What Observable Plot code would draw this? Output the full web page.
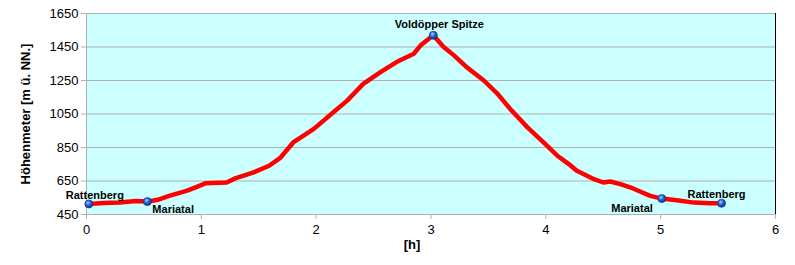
<!DOCTYPE html>
<html><head><meta charset="utf-8">
<script src="https://cdn.jsdelivr.net/npm/d3@7"></script>
<script src="https://cdn.jsdelivr.net/npm/@observablehq/plot@0.6"></script>
<style>body{margin:0;background:#fff;}</style>
</head><body><div id="chart"></div>
<script>
const hours = [0.02,0.15,0.29,0.43,0.53,0.62,0.72,0.87,0.95,1.04,1.22,1.30,1.45,1.59,1.69,1.80,1.98,2.15,2.27,2.41,2.56,2.70,2.85,2.91,3.02,3.11,3.20,3.31,3.46,3.58,3.69,3.84,3.98,4.10,4.20,4.27,4.42,4.50,4.56,4.65,4.74,4.82,4.91,5.01,5.14,5.29,5.43,5.53];
const heights = [513,518,521,531,527,538,561,591,612,637,641,667,700,741,790,880,961,1060,1130,1230,1300,1360,1410,1460,1520,1450,1400,1330,1250,1170,1080,970,880,801,751,711,661,641,647,631,611,587,561,545,535,521,517,517];
const wpNames = ["Rattenberg","Mariatal","Voldöpper Spitze","Mariatal","Rattenberg"];
const wpHours = [0.02,0.53,3.02,5.01,5.53];
const wpHeights = [513,527,1520,545,517];
const xTicks = [0,1,2,3,4,5,6];
const yTicks = [450,650,850,1050,1250,1450,1650];
const xTitle = "[h]";
const yTitle = "Höhenmeter [m ü. NN.]";

const track = hours.map((h, i) => ({h, m: heights[i]}));
const wps = wpNames.map((name, i) => ({name, h: wpHours[i], m: wpHeights[i], i}));

const font = "'Liberation Sans', Arial, sans-serif";
const labelStyle = {x: "h", y: "m", text: "name", fontWeight: "bold", fontSize: 11, fill: "black"};
const label = (i, opts) => Plot.text(wps.filter(d => d.i === i), {...labelStyle, ...opts});

const chart = Plot.plot({
  width: 795, height: 265,
  marginLeft: 86, marginRight: 20, marginTop: 13, marginBottom: 51,
  style: {fontFamily: font, background: "white", overflow: "visible"},
  x: {domain: [0, 6]},
  y: {domain: [450, 1650]},
  marks: [
    Plot.frame({fill: "#ccffff", stroke: null}),
    Plot.ruleY(yTicks, {stroke: "#b0b0b0", strokeWidth: 1}),
    Plot.ruleX([0], {stroke: "#b0b0b0"}),
    Plot.ruleX([6], {stroke: "black"}),
    Plot.axisY({ticks: yTicks, tickFormat: d => String(d), tickSize: 5, tickPadding: 3, stroke: "#b0b0b0", fill: "black", fontSize: 13, label: null}),
    Plot.axisX({ticks: xTicks, tickFormat: d => String(d), tickSize: 5, tickPadding: 5, stroke: "#b0b0b0", fill: "black", fontSize: 13, label: null}),
    Plot.line(track, {x: "h", y: "m", stroke: "#ff0000", strokeWidth: 4.5, strokeLinejoin: "round", strokeLinecap: "round"}),
    Plot.dot(wps, {x: "h", y: "m", r: 4, fill: "#2060d8", stroke: "#0b3a8c", strokeWidth: 0.7, className: "ball"}),
    label(0, {textAnchor: "start", dx: -23, dy: -8}),
    label(1, {textAnchor: "start", dx: 5, dy: 8}),
    label(2, {textAnchor: "middle", dx: 6, dy: -11}),
    label(3, {textAnchor: "end", dx: -9, dy: 10}),
    label(4, {textAnchor: "start", dx: -34, dy: -9}),
    Plot.text([xTitle], {text: d => d, frameAnchor: "bottom", lineAnchor: "middle", dx: -19, dy: 30, fontWeight: "bold", fontSize: 13, fill: "black"}),
    Plot.text([yTitle], {text: d => d, frameAnchor: "left", textAnchor: "middle", lineAnchor: "middle", rotate: -90, dx: -61, fontWeight: "bold", fontSize: 13, fill: "black"})
  ]
});

const svg = d3.select(chart);
const defs = svg.insert("defs", ":first-child");
const g = defs.append("radialGradient").attr("id", "ball").attr("cx", "40%").attr("cy", "35%").attr("r", "65%");
g.append("stop").attr("offset", "0%").attr("stop-color", "#a8d0ff");
g.append("stop").attr("offset", "45%").attr("stop-color", "#2a6be0");
g.append("stop").attr("offset", "100%").attr("stop-color", "#0a2f80");
svg.selectAll(".ball circle").attr("fill", "url(#ball)");

document.getElementById("chart").appendChild(chart);
</script>
</body></html>
